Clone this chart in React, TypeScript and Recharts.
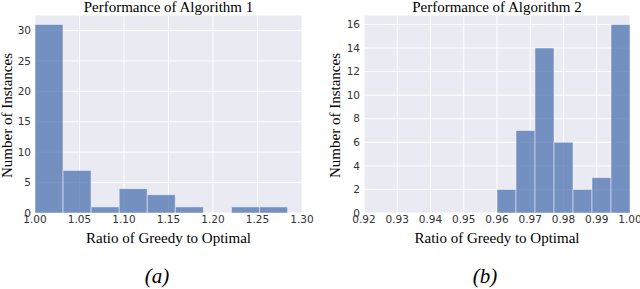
import React from 'react';
import { BarChart, Bar, XAxis, YAxis, CartesianGrid } from 'recharts';

// Algorithm 1 histogram (9 bins from 1.00 to ~1.284)
const bins1Start = 1.0;
const bins1Width = 0.031536;
const counts1 = [31, 7, 1, 4, 3, 1, 0, 1, 1];
const xTicks1 = [1.0, 1.05, 1.1, 1.15, 1.2, 1.25, 1.3];
const yTicks1 = [0, 5, 10, 15, 20, 25, 30];

// Algorithm 2 histogram (7 bins from 0.96 to 1.00)
const bins2Start = 0.96;
const bins2Width = 0.04 / 7;
const counts2 = [2, 7, 14, 6, 2, 3, 16];
const xTicks2 = [0.92, 0.93, 0.94, 0.95, 0.96, 0.97, 0.98, 0.99, 1.0];
const yTicks2 = [0, 2, 4, 6, 8, 10, 12, 14, 16];

const data1 = counts1.map((c, i) => ({ x: bins1Start + bins1Width * (i + 0.5), y: c }));
const data2 = counts2.map((c, i) => ({ x: bins2Start + bins2Width * (i + 0.5), y: c }));

const tickStyle = { fontFamily: '"DejaVu Sans"', fontSize: 10.5, fill: '#333' };
const serif = '"Liberation Serif", "DejaVu Serif", serif';

const Hist = ({ data, xTicks, yTicks, xDomain, yDomain, margin, yWidth, fmtX }: any) => (
  <BarChart
    width={320}
    height={250}
    data={data}
    margin={margin}
    barCategoryGap={0}
    barGap={0}
  >
    <CartesianGrid fill="#EAEAF2" stroke="#ffffff" strokeWidth={1} />
    <XAxis
      dataKey="x"
      type="number"
      domain={xDomain}
      ticks={xTicks}
      allowDataOverflow
      axisLine={false}
      tickLine={false}
      tickSize={0}
      tickMargin={3}
      height={30}
      interval={0}
      tick={tickStyle}
      tickFormatter={fmtX}
    />
    <YAxis
      type="number"
      domain={yDomain}
      ticks={yTicks}
      allowDataOverflow
      axisLine={false}
      tickLine={false}
      tickSize={0}
      tickMargin={4}
      width={yWidth}
      interval={0}
      tick={tickStyle}
    />
    <Bar
      dataKey="y"
      fill="#4C72B0"
      fillOpacity={0.75}
      stroke="#ffffff"
      strokeOpacity={0.6}
      strokeWidth={0.75}
      isAnimationActive={false}
    />
  </BarChart>
);

const abs = (s: any) => ({ position: 'absolute' as const, ...s });
const lbl = { fontFamily: serif, fontSize: 15, lineHeight: '15px', color: '#000', textAlign: 'center' as const, whiteSpace: 'nowrap' as const };

export default function App() {
  return (
    <div style={abs({ left: 0, top: 0, width: 640, height: 289, background: '#fff', overflow: 'hidden' })}>
      <div style={abs({ left: 0, top: 0 })}>
        <Hist
          data={data1}
          xTicks={xTicks1}
          yTicks={yTicks1}
          xDomain={[1.0, 1.3]}
          yDomain={[0, 32.55]}
          margin={{ top: 15, right: 18, bottom: 7, left: 5 }}
          yWidth={30}
          fmtX={(v: number) => v.toFixed(2)}
        />
      </div>
      <div style={abs({ left: 320, top: 0 })}>
        <Hist
          data={data2}
          xTicks={xTicks2}
          yTicks={yTicks2}
          xDomain={[0.92, 1.0]}
          yDomain={[0, 16.8]}
          margin={{ top: 15, right: 10, bottom: 7, left: 4 }}
          yWidth={40}
          fmtX={(v: number) => v.toFixed(2)}
        />
      </div>
      {/* Titles */}
      <div style={abs({ ...lbl, left: 35, width: 267, top: 0 })}>Performance of Algorithm 1</div>
      <div style={abs({ ...lbl, left: 364, width: 266, top: 0 })}>Performance of Algorithm 2</div>
      {/* X labels */}
      <div style={abs({ ...lbl, left: 35, width: 267, top: 231 })}>Ratio of Greedy to Optimal</div>
      <div style={abs({ ...lbl, left: 364, width: 266, top: 231 })}>Ratio of Greedy to Optimal</div>
      {/* Y labels */}
      <div style={abs({ ...lbl, left: 7 - 100, width: 200, top: 115 - 7.5, transform: 'rotate(-90deg)' })}>Number of Instances</div>
      <div style={abs({ ...lbl, left: 335 - 100, width: 200, top: 115 - 7.5, transform: 'rotate(-90deg)' })}>Number of Instances</div>
      {/* Captions */}
      <div style={abs({ left: 107, width: 100, top: 263, textAlign: 'center', fontFamily: serif, fontSize: 21, lineHeight: '26px', fontStyle: 'italic', color: '#000' })}>
        (a)
      </div>
      <div style={abs({ left: 435, width: 100, top: 263, textAlign: 'center', fontFamily: serif, fontSize: 21, lineHeight: '26px', fontStyle: 'italic', color: '#000' })}>
        (b)
      </div>
    </div>
  );
}
